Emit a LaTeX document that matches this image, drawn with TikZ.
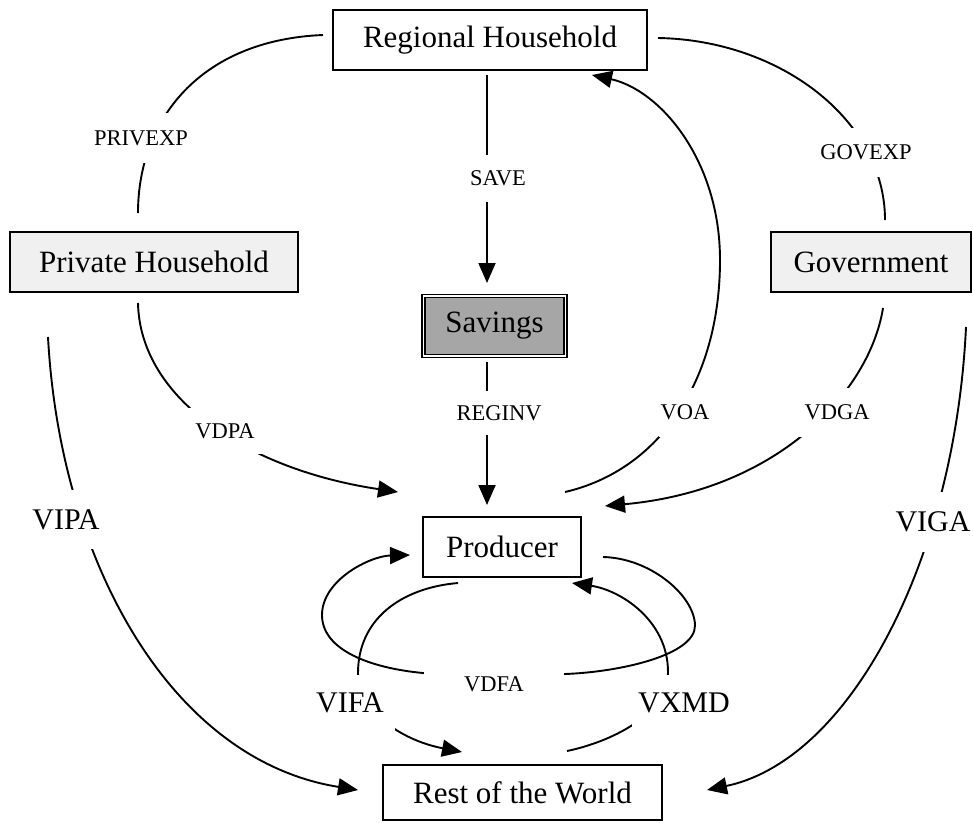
\documentclass[tikz,border=0pt]{standalone}
\usepackage{fontspec}
\setmainfont{Liberation Serif}
\usetikzlibrary{arrows.meta}
\begin{document}
\begin{tikzpicture}[x=1pt,y=-1pt,
  box/.style={draw, line width=1.8pt, minimum height=60pt, inner sep=0pt, font=\fontsize{31}{33}\selectfont},
  shadebox/.style={box, line width=2.6pt, fill=black!6},
  savbox/.style={box, line width=1.3pt, double=white, double distance=1.6pt, fill=black!35, minimum height=60pt},
  flow/.style={line width=1.9pt},
  arr/.style={flow, -{Triangle[length=20pt,width=17pt]}},
  lbl/.style={fill=white, inner sep=0pt, font=\fontsize{22.5}{24}\selectfont},
  big/.style={fill=white, inner sep=0pt, font=\fontsize{30}{32}\selectfont}]
\useasboundingbox (0,0) rectangle (973,822);

% boxes
\node[box, minimum width=314pt] (rh) at (490,40) {Regional Household};
\node[shadebox, minimum width=288pt] (ph) at (154,262) {Private Household};
\node[shadebox, minimum width=200pt] (gov) at (871,262) {Government};
\node[savbox, minimum width=142pt] (sav) at (494.5,326) {Savings};
\node[box, minimum width=158pt] (prod) at (502,547) {Producer};
\node[box, minimum width=279pt, minimum height=55pt] (row) at (522.5,792.5) {Rest of the World};

% connector end points
\coordinate (p1) at (323,35);  \coordinate (p2) at (138,213);
\coordinate (g1) at (658,38);  \coordinate (g2) at (885,220);
\coordinate (s1) at (487,75);  \coordinate (s2) at (487,283);
\coordinate (r1) at (487,362); \coordinate (r2) at (487,505);
\coordinate (v1) at (565,492); \coordinate (v2) at (592,75);
\coordinate (d1) at (883,308); \coordinate (d2) at (605,506);
\coordinate (a1) at (138,303); \coordinate (a2) at (398,492);
\coordinate (i1) at (48,337);  \coordinate (i2) at (358,790);
\coordinate (j1) at (966,327); \coordinate (j2) at (707,790);
\coordinate (f1) at (603,557); \coordinate (f2) at (410,555);
\coordinate (b1) at (458,583); \coordinate (b2) at (462,752);
\coordinate (x1) at (567,751); \coordinate (x2) at (572,583);

% connectors
\draw[flow] (p1) .. controls (200,40) and (138,120) .. (p2);
\draw[flow] (g1) .. controls (780,40) and (885,120) .. (g2);
\draw[arr] (s1) -- (s2);
\draw[arr] (r1) -- (r2);
\draw[arr] (v1) .. controls (660,470) and (720,380) .. (720,260) .. controls (720,160) and (660,90) .. (v2);
\draw[arr] (d1) .. controls (870,390) and (780,490) .. (d2);
\draw[arr] (a1) .. controls (140,400) and (250,470) .. (a2);
\draw[arr] (i1) .. controls (60,560) and (170,760) .. (i2);
\draw[arr] (j1) .. controls (955,560) and (850,760) .. (j2);
\draw[arr] (f1) .. controls (650,558) and (694,595) .. (695,625) .. controls (696,655) and (620,672) .. (565,674) .. controls (520,677) and (470,677) .. (423,673) .. controls (370,668) and (322,650) .. (322,615) .. controls (322,580) and (370,556) .. (f2);
\draw[arr] (b1) .. controls (400,588) and (358,620) .. (358,673) .. controls (358,710) and (400,740) .. (b2);
\draw[arr] (x1) .. controls (610,742) and (668,715) .. (668,672) .. controls (668,620) and (620,590) .. (x2);

% labels
\node[lbl, minimum width=105pt, minimum height=50pt] (lprivexp) at (141,138) {PRIVEXP};
\node[lbl, minimum width=65pt, minimum height=47pt] (lsave) at (498,178.5) {SAVE};
\node[lbl, minimum width=102pt, minimum height=49pt] (lgovexp) at (866,152.5) {GOVEXP};
\node[lbl, minimum width=92pt, minimum height=44pt] (lreginv) at (499,413) {REGINV};
\node[lbl, minimum width=52pt, minimum height=49pt] (lvoa) at (685,412.5) {VOA};
\node[lbl, minimum width=76pt, minimum height=49pt] (lvdga) at (837,412.5) {VDGA};
\node[lbl, minimum width=84pt, minimum height=46pt] (lvdpa) at (225,431) {VDPA};
\node[lbl, minimum width=140pt, minimum height=34pt] (lvdfa) at (494,684) {VDFA};
\node[big, minimum width=76pt, minimum height=59pt] (lvipa) at (66,519.5) {VIPA};
\node[big, minimum width=78pt, minimum height=60pt] (lviga) at (933,522) {VIGA};
\node[big, minimum width=90pt, minimum height=56pt] (lvifa) at (350,703) {VIFA};
\node[big, minimum width=105pt, minimum height=56pt] (lvxmd) at (684,703) {VXMD};
\end{tikzpicture}
\end{document}
